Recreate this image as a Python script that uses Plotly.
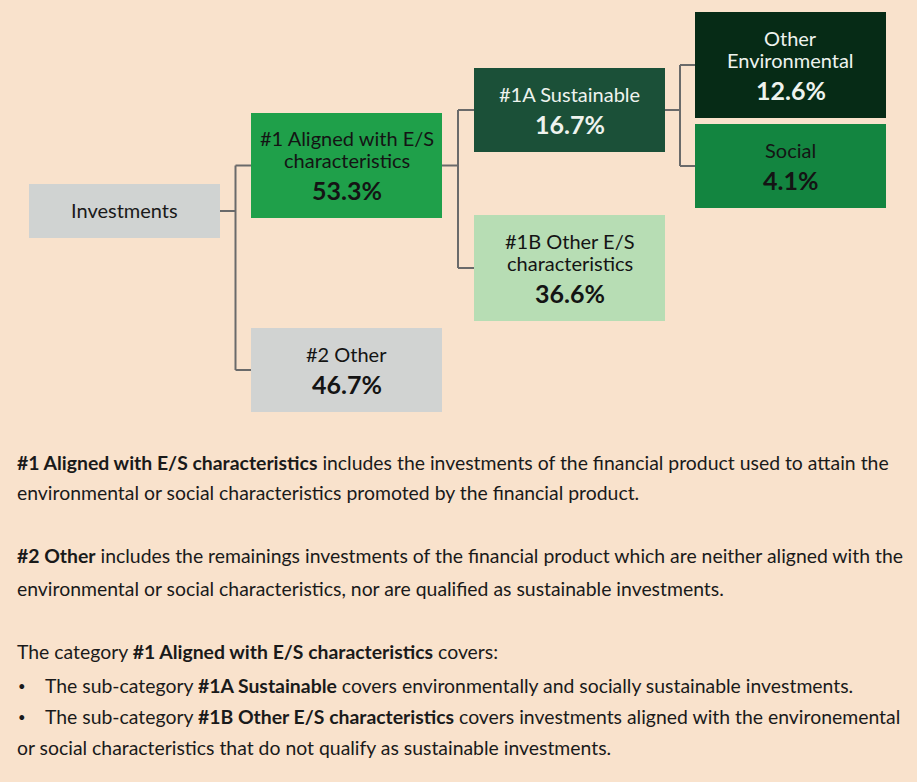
import plotly.graph_objects as go

# ---------------- data ----------------
node_labels = [["Investments"], ["#1 Aligned with E/S", "characteristics"], ["#2 Other"],
               ["#1A Sustainable"], ["#1B Other E/S", "characteristics"],
               ["Other", "Environmental"], ["Social"]]
node_shares = [None, 53.3, 46.7, 16.7, 36.6, 12.6, 4.1]
node_parents = [None, 0, 0, 1, 1, 3, 3]

# ---------------- layout / style (pixel space) ----------------
W, H = 917, 782
BG = "#F9E2CC"
col_x = [29, 251, 474, 695]
box_w = 191
node_col = [0, 1, 1, 2, 2, 3, 3]
node_top = [184, 113, 328, 68, 215, 12, 124]
node_h = [54, 105, 84, 84, 106, 106, 84]
node_fill = ["#D0D3D2", "#1FA04A", "#D1D3D2", "#1B5038", "#B7DDB4", "#062B16", "#138540"]
node_font = ["#1A1A1A", "#141414", "#141414", "#EEF3EE", "#141414", "#EEF3EE", "#141414"]
FONT = "Lato"
LABEL_SIZE = 20
PCT_SIZE = 25
LINE_GAP = 22
PCT_GAP = 30

fig = go.Figure()
shapes, annos = [], []

def box(i):
    x0 = col_x[node_col[i]]
    return x0, x0 + box_w, node_top[i], node_top[i] + node_h[i]

for i, lines in enumerate(node_labels):
    x0, x1, y0, y1 = box(i)
    shapes.append(dict(type="rect", xref="x", yref="y", x0=x0, x1=x1, y0=y0, y1=y1,
                       fillcolor=node_fill[i], line=dict(width=0), layer="below"))
    cx, cy = (x0 + x1) / 2, (y0 + y1) / 2
    n = len(lines)
    if node_shares[i] is None:
        span = LINE_GAP * (n - 1)
    else:
        span = LINE_GAP * (n - 1) + PCT_GAP
    ystart = cy - span / 2 - 1.5
    for k, ln in enumerate(lines):
        annos.append(dict(x=cx, y=ystart + k * LINE_GAP, xref="x", yref="y", text=ln,
                          showarrow=False, xanchor="center", yanchor="middle",
                          font=dict(family=FONT, color=node_font[i], size=LABEL_SIZE)))
    if node_shares[i] is not None:
        annos.append(dict(x=cx, y=ystart + (n - 1) * LINE_GAP + PCT_GAP, xref="x", yref="y",
                          text=f"<b>{node_shares[i]:.1f}%</b>",
                          showarrow=False, xanchor="center", yanchor="middle",
                          font=dict(family=FONT, color=node_font[i], size=PCT_SIZE)))

# connectors
LINE = "#6A6A6A"
for p in sorted(set(q for q in node_parents if q is not None)):
    kids = [k for k, q in enumerate(node_parents) if q == p]
    px0, px1, py0, py1 = box(p)
    pc = (py0 + py1) / 2
    cx0 = col_x[node_col[kids[0]]]
    xm = (px1 + cx0) / 2
    ys = [(box(k)[2] + box(k)[3]) / 2 for k in kids]
    segs = [([px1, xm], [pc, pc]), ([xm, xm], [min(ys), max(ys)])]
    segs += [([xm, cx0], [yk, yk]) for yk in ys]
    for sx, sy in segs:
        fig.add_trace(go.Scatter(x=sx, y=sy, mode="lines",
                                 line=dict(color=LINE, width=2), hoverinfo="skip", showlegend=False))

# explanatory text
text_lines = [
    ("<b>#1 Aligned with E/S characteristics</b> includes the investments of the financial product used to attain the", 15, 462),
    ("environmental or social characteristics promoted by the financial product.", 15, 492),
    ("<b>#2 Other</b> includes the remainings investments of the financial product which are neither aligned with the", 15, 555),
    ("environmental or social characteristics, nor are qualified as sustainable investments.", 15, 588),
    ("The category <b>#1 Aligned with E/S characteristics</b> covers:", 15, 651),
    ("The sub-category <b>#1A Sustainable</b> covers environmentally and socially sustainable investments.", 43, 685),
    ("The sub-category <b>#1B Other E/S characteristics</b> covers investments aligned with the environemental", 43, 716),
    ("or social characteristics that do not qualify as sustainable investments.", 15, 747),
]
bullet_y = [685, 716]
for t, x, y in text_lines:
    annos.append(dict(x=x, y=y, xref="x", yref="y", text=t, showarrow=False,
                      xanchor="left", yanchor="middle", align="left",
                      font=dict(family=FONT, size=19.4, color="#1A1A1A")))
for y in bullet_y:
    annos.append(dict(x=16, y=y + 1, xref="x", yref="y", text="•", showarrow=False,
                      xanchor="left", yanchor="middle",
                      font=dict(family=FONT, size=13, color="#1A1A1A")))

fig.update_layout(
    width=W, height=H, autosize=False,
    margin=dict(l=0, r=0, t=0, b=0),
    paper_bgcolor=BG, plot_bgcolor=BG,
    shapes=shapes, annotations=annos,
    xaxis=dict(range=[0, W], visible=False, fixedrange=True),
    yaxis=dict(range=[H, 0], visible=False, fixedrange=True),
    showlegend=False,
)
fig.write_html("out.html", config={"displayModeBar": False},
               post_script="document.body.style.margin='0';document.body.style.overflow='hidden';")
